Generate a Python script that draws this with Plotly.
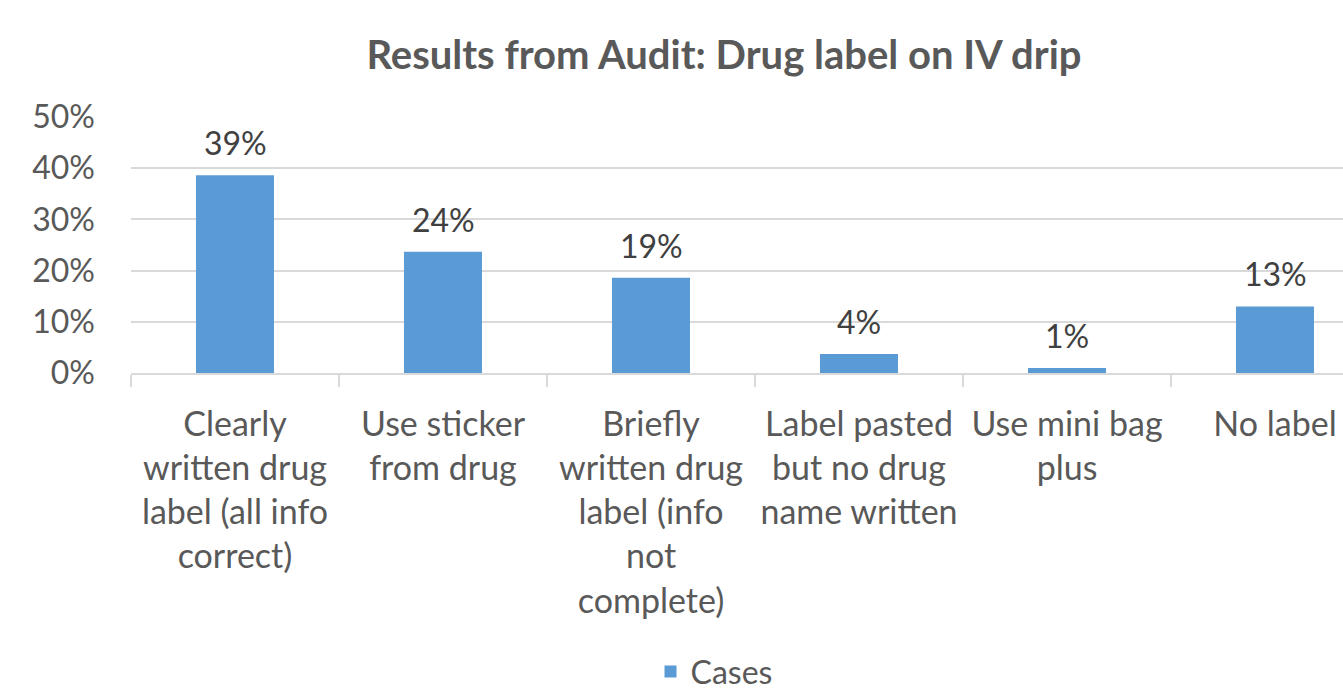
import plotly.graph_objects as go

categories = [
    "Clearly<br>written drug<br>label (all info<br>correct)",
    "Use sticker<br>from drug",
    "Briefly<br>written drug<br>label (info<br>not<br>complete)",
    "Label pasted<br>but no drug<br>name written",
    "Use mini bag<br>plus",
    "No label",
]
cases = [0.386, 0.237, 0.186, 0.037, 0.010, 0.130]
value_labels = ["39%", "24%", "19%", "4%", "1%", "13%"]
y_ticks = [0, 0.1, 0.2, 0.3, 0.4, 0.5]
y_tick_text = ["0%", "10%", "20%", "30%", "40%", "50%"]

FONT = "Lato"
BLUE = "#5B9BD5"
GRID = "#D9D9D9"

fig = go.Figure()
fig.add_trace(go.Bar(
    x=categories, y=cases, name="Cases",
    marker=dict(color=BLUE, line=dict(width=0)),
    hoverinfo="skip",
))

for c, v, t in zip(categories, cases, value_labels):
    fig.add_annotation(
        x=c, y=v, text=t, showarrow=False, xref="x", yref="y",
        yanchor="bottom", yshift=11,
        font=dict(family=FONT, size=32, color="#404040"),
    )

fig.update_layout(
    width=1343, height=691,
    margin=dict(l=131, r=0, t=117, b=318, autoexpand=False),
    paper_bgcolor="white", plot_bgcolor="white",
    bargap=0.625,
    title=dict(
        text="<b>Results from Audit: Drug label on IV drip</b>",
        x=724 / 1343, xanchor="center", y=1 - 55 / 691, yanchor="middle",
        font=dict(family=FONT, size=40, color="#595959"),
    ),
    showlegend=True,
    legend=dict(
        orientation="h", x=(714 - 131) / 1212, xanchor="center",
        y=-(672 - 373.3) / 256, yanchor="middle",
        font=dict(family=FONT, size=32, color="#595959"),
        bgcolor="rgba(0,0,0,0)",
    ),
)

fig.update_xaxes(
    type="category",
    range=[-0.5, -0.5 + 1212 / 208],
    tickson="boundaries",
    ticks="outside", ticklen=12, tickcolor=GRID, tickwidth=2,
    showline=True, linecolor=GRID, linewidth=2,
    showgrid=False, automargin=False,
    tickfont=dict(family=FONT, size=34, color="#595959"),
    ticklabelstandoff=20,
)
fig.update_yaxes(
    range=[0, 0.5], automargin=False,
    tickvals=y_ticks, ticktext=y_tick_text,
    showgrid=True, gridcolor=GRID, gridwidth=2,
    zeroline=False, showline=False,
    ticks="", ticklabelstandoff=35,
    tickfont=dict(family=FONT, size=32, color="#595959"),
)

fig.write_html("out.html", config={"displayModeBar": False})

# remove the browser's default page margin so the figure sits at the top-left corner
with open("out.html", "r", encoding="utf-8") as f:
    html = f.read()
html = html.replace("<head>", "<head><style>html,body{margin:0;padding:0;overflow:hidden;}</style>", 1)
with open("out.html", "w", encoding="utf-8") as f:
    f.write(html)
